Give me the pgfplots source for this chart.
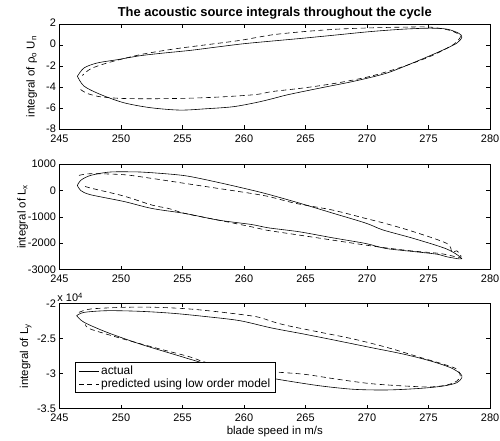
\documentclass[border=0pt]{standalone}
\usepackage{pgfplots}
\pgfplotsset{compat=1.18}
\usepackage{fontspec}
\setmainfont{Liberation Sans}
\begin{document}
\pgfplotsset{
  mat/.style={
    scale only axis, width=433pt, height=106pt,
    xmin=245, xmax=280, xtick={245,250,...,280},
    tick align=inside, tick pos=both,
    major tick length=4pt,
    axis line style={line width=0.6pt},
    every tick/.style={line width=0.5pt, black},
    tick label style={font=\fontsize{11}{13}\selectfont},
    xticklabel style={yshift=-1.5pt},
    label style={font=\fontsize{11.5}{13}\selectfont},
    /pgf/number format/assume math mode=true,
    /pgf/number format/1000 sep={},
    scaled y ticks=false,
    clip=false,
  },
  act/.style={black, line width=0.6pt, smooth, tension=0.5},
  pred/.style={black, line width=0.6pt, dash pattern=on 5pt off 3.5pt, smooth, tension=0.5},
}
\begin{tikzpicture}
% ---------- top ----------
\begin{axis}[mat, at={(0,0)}, anchor=north west,
  ymin=-8, ymax=2, ytick={-8,-6,...,2},
  yticklabel style={yshift=0.8pt},
  xticklabel style={yshift=-1pt},
  ylabel={integral of ρ\textsubscript{o} U\textsubscript{n}},
  ylabel style={at={(axis description cs:-0.0647,0.5)}, anchor=center},
  title={\textbf{The acoustic source integrals throughout the cycle}},
  title style={font=\fontsize{13}{15}\selectfont, yshift=-4.5pt}]
\addplot[act] coordinates {
(246.46,-2.97) (247.0,-2.18) (248.07,-1.71) (249.69,-1.40) (251.57,-1.02)
(253.46,-0.77) (255.6,-0.52) (257.77,-0.20) (259.93,0.11) (262.1,0.35)
(264.91,0.65) (267.61,0.96) (270.3,1.27) (272.99,1.50) (275.15,1.59)
(276.5,1.50) (277.44,1.12) (277.71,0.75) (277.31,0.18) (276.23,-0.45)
(274.35,-1.40) (271.65,-2.65) (268.95,-3.44) (266.26,-4.07) (263.57,-4.72)
(262.3,-5.10) (261.0,-5.46) (259.12,-5.86) (256.96,-6.05) (254.8,-6.18)
(252.38,-5.95) (250.23,-5.48) (248.34,-4.70) (247.0,-3.91) (246.46,-2.97)};
\addplot[pred] coordinates {
(246.72,-4.23) (247.26,-4.60) (248.34,-4.92) (250.23,-5.08) (252.92,-5.10)
(255.62,-5.05) (258.31,-4.92) (261.0,-4.70) (262.3,-4.42) (264.91,-4.07)
(267.61,-3.60) (270.3,-2.97) (272.99,-2.03) (275.15,-1.08) (276.77,-0.14)
(277.31,0.33) (277.58,0.87) (276.77,1.37) (275.15,1.69) (272.99,1.69)
(270.3,1.62) (267.61,1.50) (264.91,1.27) (262.3,0.96) (259.66,0.43)
(256.96,0.02) (254.27,-0.39) (251.57,-0.92) (248.88,-1.71) (247.53,-2.27)
(246.86,-2.90)};
\end{axis}
% ---------- middle ----------
\begin{axis}[mat, at={(0,-141pt)}, anchor=north west,
  ymin=-3000, ymax=1000, ytick={-3000,-2000,...,1000},
  ylabel={integral of L\textsubscript{x}},
  ylabel style={at={(axis description cs:-0.0855,0.5)}, anchor=center}]
\addplot[act] coordinates {
(246.46,190) (246.72,380) (247.53,570) (249.15,700) (251.57,700)
(252.52,673) (255.21,559) (257.91,304) (260.6,15) (262.0,-150)
(264.5,-480) (267.2,-860) (269.9,-1240) (271.3,-1500) (273.8,-1824)
(276.5,-2227) (277.7,-2590) (276.5,-2519) (275.69,-2420) (273.8,-2320)
(271.5,-2200) (269.9,-2014) (267.2,-1797) (264.5,-1569) (262.0,-1420)
(260.6,-1292) (257.91,-1125) (255.21,-874) (252.52,-684) (250.23,-418)
(247.53,-163) (246.72,0) (246.46,190)};
\addplot[pred] coordinates {
(246.59,570) (247.53,635) (250.23,597) (252.52,456) (255.21,266)
(257.91,76) (260.6,-114) (262.08,-239) (264.24,-494) (267.2,-745)
(269.9,-1064) (271.5,-1254) (273.8,-1569) (276.5,-2014) (276.9,-2340)
(277.3,-2290) (277.6,-2540) (275.96,-2394) (273.8,-2303) (271.5,-2177)
(269.9,-2075) (267.2,-1885) (264.5,-1695) (261.8,-1505) (260.6,-1379)
(257.91,-1125) (255.21,-874) (253.87,-684) (252.52,-555) (250.23,-213)
(247.53,91) (246.86,190)};
\end{axis}
% ---------- bottom ----------
\begin{axis}[mat, at={(0,-281pt)}, anchor=north west,
  ymin=-3.5, ymax=-2, ytick={-3.5,-3,-2.5,-2},
  ylabel={integral of L\textsubscript{y}},
  ylabel style={at={(axis description cs:-0.0785,0.5)}, anchor=center},
  xlabel={blade speed in m/s},
  xlabel style={yshift=2pt},
  legend style={at={(rel axis cs:0.037,0.439)}, anchor=north west,
    draw=black, fill=white, line width=0.6pt, font=\fontsize{12}{13.5}\selectfont,
    inner xsep=3pt, inner ysep=1.5pt, row sep=-1.5pt},
  legend cell align=left,
  legend image code/.code={\draw[#1, line width=0.6pt] (0pt,0pt) -- (20pt,0pt);}]
\addplot[act] coordinates {
(246.4,-2.176) (247.0,-2.129) (248.88,-2.105) (251.57,-2.114) (254.27,-2.143)
(256.96,-2.19) (259.66,-2.247) (262.22,-2.35) (264.91,-2.439) (267.61,-2.533)
(270.3,-2.629) (272.99,-2.724) (275.15,-2.82) (276.77,-2.914) (277.58,-3.0)
(277.71,-3.057) (277.31,-3.129) (276.23,-3.176) (274.35,-3.21) (271.65,-3.233)
(268.95,-3.224) (266.26,-3.176) (263.57,-3.105) (262.1,-3.06) (259.3,-2.96)
(256.7,-2.85) (254.27,-2.724) (251.57,-2.58) (248.88,-2.414) (247.0,-2.27)
(246.4,-2.176)};
\addlegendentry{actual}
\addplot[pred] coordinates {
(246.59,-2.129) (247.53,-2.081) (250.23,-2.057) (252.92,-2.057) (255.6,-2.081)
(258.31,-2.129) (261.0,-2.19) (262.3,-2.26) (263.57,-2.319) (266.26,-2.414)
(268.95,-2.51) (271.65,-2.629) (274.35,-2.771) (276.23,-2.867) (277.31,-2.938)
(277.58,-3.033) (277.31,-3.105) (276.5,-3.162) (275.15,-3.19) (272.99,-3.176)
(270.3,-3.143) (267.61,-3.081) (264.91,-3.01) (262.22,-2.971) (259.3,-2.90)
(256.96,-2.843) (255.6,-2.762) (252.92,-2.639) (250.23,-2.51) (247.53,-2.367)
(247.1,-2.30)};
\addlegendentry{predicted using low order model}
\node[anchor=south west, inner sep=0pt, font=\fontsize{11}{13}\selectfont]
  at (rel axis cs:-0.005,1.01) {x 10\textsuperscript{4}};
\end{axis}
\pgfresetboundingbox
\path[use as bounding box] (-57pt,24pt) rectangle (443pt,-419pt);
\end{tikzpicture}
\end{document}
